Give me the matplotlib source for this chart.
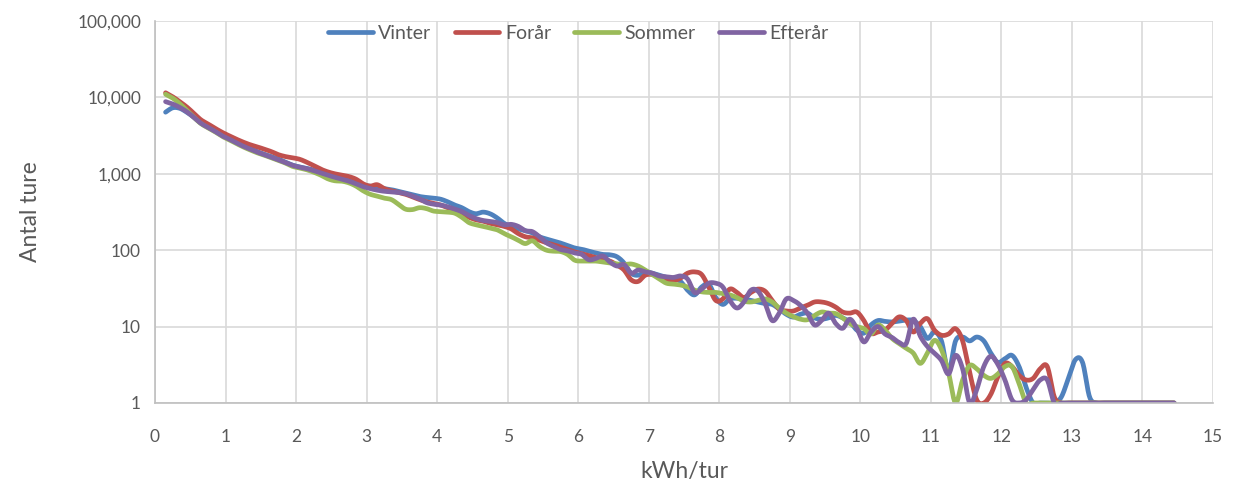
import numpy as np
import matplotlib
matplotlib.use("Agg")
import matplotlib.pyplot as plt
from matplotlib.ticker import FixedLocator, FuncFormatter

# ---- data (kWh per trip bins, 0.1 kWh wide, centres 0.15 ... 14.45) ----
kwh = np.linspace(0.15, 14.45, 144)

vinter = [
    6400, 7300, 7200, 6400, 5500, 4600, 4100, 3650, 3200,
    2900, 2600, 2350, 2150, 1950, 1800, 1680, 1560, 1420, 1300,
    1230, 1180, 1120, 1050, 970, 910, 860, 810, 760, 710,
    690, 670, 640, 620, 590, 560, 530, 505, 490, 480,
    465, 430, 390, 360, 320, 300, 315, 300, 265, 225,
    205, 190, 180, 168, 150, 140, 132, 124, 115, 107,
    103, 97, 92, 88, 87, 82, 68, 50, 47, 52,
    50, 47, 44, 42, 39, 30, 26, 33, 36, 24,
    19.5, 23, 23.5, 23, 22, 21, 20, 19.5, 17, 14.5,
    13.3, 14.5, 15, 13, 12.5, 13, 14, 13, 11.5, 9,
    8.2, 10.5, 12, 11.7, 11.5, 11.8, 12.2, 12, 10, 7,
    8.5, 6.5, 2.6, 6.5, 7.3, 6.5, 7.3, 6.5, 4.5, 3.4,
    3.8, 4.2, 3.0, 1.6, 1, 1, 1, 1, 1.2, 2.1,
    3.7, 3.4, 1.2, 1, 1, 1, 1, 1, 1, 1,
    1, 1, 1, 1, 1,
]

foraar = [
    11500, 10200, 8800, 7500, 6200, 5100, 4500, 3950, 3500,
    3150, 2850, 2600, 2400, 2250, 2100, 1950, 1780, 1680, 1620,
    1550, 1420, 1280, 1150, 1060, 1000, 960, 920, 850, 740,
    690, 720, 640, 600, 570, 540, 500, 460, 430, 410,
    390, 360, 330, 300, 270, 250, 240, 225, 215, 205,
    190, 165, 150, 145, 135, 125, 118, 110, 102, 95,
    90, 85, 80, 75, 72, 64, 55, 41, 39, 47,
    48, 44, 41, 40, 43, 50, 52, 48, 33, 22,
    23, 31, 28, 24, 28, 31, 29, 22, 17, 16,
    16, 17.5, 19, 21, 21, 20, 18, 15.5, 15, 15.5,
    12, 8.2, 8.5, 9, 11, 13.4, 12, 8.5, 11, 12.7,
    9, 7.7, 8.0, 9.4, 6.5, 2.5, 1.1, 1.0, 1.3, 2.2,
    3.3, 3.0, 2.3, 2.0, 2.1, 2.8, 3.0, 1.2, 1, 1,
    1, 1, 1, 1, 1, 1, 1, 1, 1, 1,
    1, 1, 1, 1, 1,
]

sommer = [
    11000, 9800, 8300, 6800, 5500, 4550, 4000, 3550, 3100,
    2800, 2500, 2250, 2050, 1880, 1750, 1620, 1500, 1380, 1250,
    1190, 1130, 1050, 960, 860, 810, 800, 760, 690, 600,
    540, 510, 480, 460, 400, 345, 340, 360, 350, 325,
    320, 315, 305, 270, 230, 215, 205, 195, 185, 165,
    150, 135, 122, 133, 112, 100, 97, 96, 88, 74,
    72, 72, 72, 70, 68, 66, 65, 66, 62, 55,
    48, 42, 37, 36, 35, 33, 30, 28.5, 28, 28,
    27, 26, 24, 21.5, 21, 22, 23, 21, 17.5, 15,
    13.5, 12.5, 12.3, 14, 15.5, 15, 14.8, 13, 11, 10,
    9.4, 8, 10.5, 9, 7, 6, 5.2, 4.5, 3.3, 4.5,
    6.6, 5.0, 2.5, 1.0, 2.0, 3.1, 2.8, 2.3, 2.1, 2.4,
    3.0, 3.0, 1.8, 1.0, 1, 1, 1, 1, 1, 1,
    1, 1, 1, 1, 1, 1, 1, 1, 1, 1,
    1, 1, 1, 1, 1,
]

efteraar = [
    8800, 8200, 7400, 6500, 5500, 4600, 4050, 3600, 3150,
    2850, 2550, 2300, 2100, 1920, 1780, 1650, 1520, 1400, 1290,
    1220, 1170, 1100, 1030, 960, 900, 850, 800, 740, 680,
    640, 610, 590, 580, 570, 550, 510, 470, 420, 400,
    390, 370, 345, 320, 285, 260, 245, 238, 230, 215,
    218, 205, 180, 175, 150, 125, 112, 102, 98, 92,
    88, 75, 78, 84, 70, 62, 65, 50, 55, 52,
    50, 46, 45, 44, 46, 42, 28, 31, 37, 37,
    33, 22, 17.5, 21, 30, 29, 20, 12, 15, 23,
    22, 19, 15, 10.5, 12, 15, 11, 9.5, 12.5, 9.5,
    6.3, 8.5, 10, 8.0, 7.2, 6.2, 6.0, 12.5, 7.5, 5.5,
    4.5, 3.6, 2.4, 4.2, 2.8, 1.0, 1.5, 3.0, 4.1, 3.2,
    2.0, 1.1, 1.0, 1.1, 1.5, 2.0, 2.0, 1.0, 1, 1,
    1, 1, 1, 1, 1, 1, 1, 1, 1, 1,
    1, 1, 1, 1, 1,
]

series_names = ["Vinter", "Forår", "Sommer", "Efterår"]
series_values = [vinter, foraar, sommer, efteraar]
series_colors = ["#4F81BD", "#C0504D", "#9BBB59", "#8064A2"]

x_ticks = list(range(0, 16))
y_ticks = [1, 10, 100, 1000, 10000, 100000]


def smooth(x, y, n=14):
    """Catmull-Rom smoothing in (x, log10 y) space, like Excel's smoothed lines."""
    x = np.asarray(x, float)
    ly = np.log10(np.asarray(y, float))
    P = np.column_stack([x, ly])
    P = np.vstack([P[0], P, P[-1]])
    t = np.linspace(0, 1, n, endpoint=False)[:, None]
    out = []
    for i in range(1, len(P) - 2):
        p0, p1, p2, p3 = P[i - 1], P[i], P[i + 1], P[i + 2]
        seg = 0.5 * ((2 * p1) + (-p0 + p2) * t
                     + (2 * p0 - 5 * p1 + 4 * p2 - p3) * t ** 2
                     + (-p0 + 3 * p1 - 3 * p2 + p3) * t ** 3)
        out.append(seg)
    out.append(P[-2][None, :])
    out = np.vstack(out)
    return out[:, 0], 10 ** out[:, 1]


plt.rcParams["font.family"] = ["Lato", "DejaVu Sans"]

fig = plt.figure(figsize=(12.36, 4.86), dpi=100)
ax = fig.add_axes([0.1254, 0.1708, 0.856, 0.786])

for name, vals, col in zip(series_names, series_values, series_colors):
    xs, ys = smooth(kwh, vals)
    ax.plot(xs, ys, color=col, lw=3.4, label=name, solid_capstyle="round",
            solid_joinstyle="round")

ax.set_yscale("log")
ax.set_xlim(0, 15)
ax.set_ylim(1, 100000)
ax.xaxis.set_major_locator(FixedLocator(x_ticks))
ax.yaxis.set_major_locator(FixedLocator(y_ticks))
ax.yaxis.set_minor_locator(FixedLocator([]))
ax.yaxis.set_major_formatter(FuncFormatter(lambda v, p: f"{int(round(v)):,}"))
ax.xaxis.set_major_formatter(FuncFormatter(lambda v, p: f"{int(v)}"))

ax.grid(True, which="major", color="#D9D9D9", lw=1.2)
ax.set_axisbelow(True)
for s in ["top", "right"]:
    ax.spines[s].set_visible(False)
for s in ["left", "bottom"]:
    ax.spines[s].set_color("#BFBFBF")
    ax.spines[s].set_linewidth(1.2)

ax.tick_params(axis="both", length=0, labelsize=12.5, colors="#595959")
ax.tick_params(axis="x", pad=19)
ax.tick_params(axis="y", pad=10)

ax.set_xlabel("kWh/tur", fontsize=16.5, color="#595959", labelpad=11)
ax.set_ylabel("Antal ture", fontsize=16.5, color="#595959", labelpad=26)

leg = ax.legend(loc="upper center", bbox_to_anchor=(0.400, 1.035), ncol=4,
                frameon=False, fontsize=14, handlelength=2.3,
                handletextpad=0.28, columnspacing=1.2)
for t in leg.get_texts():
    t.set_color("#595959")

fig.savefig("out.png", dpi=100)
